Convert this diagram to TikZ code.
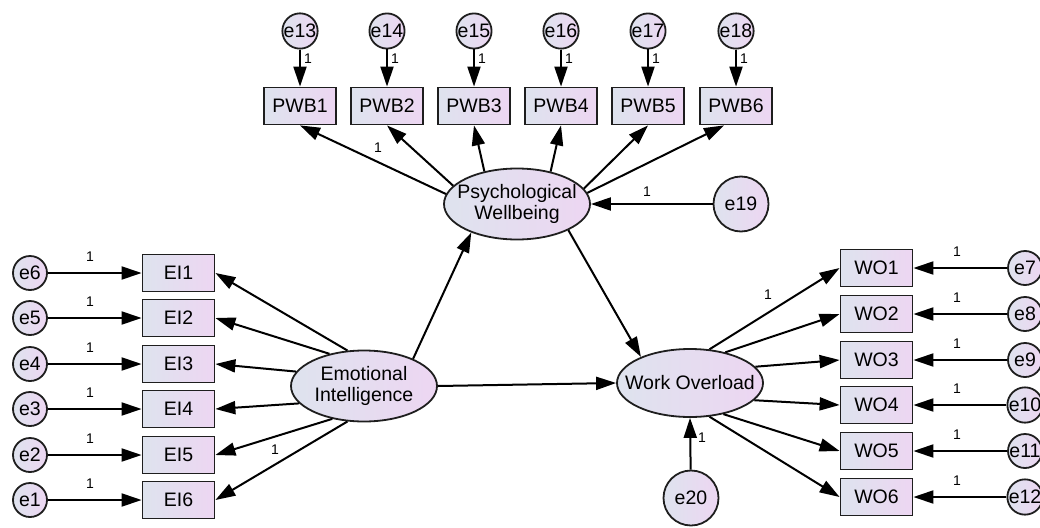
\documentclass[tikz,border=0pt]{standalone}
\usepackage{fontspec}
\setmainfont{Liberation Sans}
\usetikzlibrary{arrows.meta,shapes.geometric}
\definecolor{shadeL}{RGB}{222,227,238}
\definecolor{shadeR}{RGB}{237,214,242}
\definecolor{edgecol}{RGB}{30,30,30}
\begin{document}
\begin{tikzpicture}[x=1pt,y=-1pt,
  fnt/.style={font=\fontsize{19.5}{21}\selectfont},
  obs/.style={draw=edgecol, line width=1.8pt, left color=shadeL, right color=shadeR, minimum width=72pt, minimum height=37pt, inner sep=0pt, fnt},
  lat/.style={ellipse, draw=edgecol, line width=1.8pt, left color=shadeL, right color=shadeR, minimum width=146pt, minimum height=71pt, inner xsep=-14pt, inner ysep=-6pt, fnt, align=center},
  err/.style={circle, draw=edgecol, line width=1.8pt, left color=shadeL, right color=shadeR, minimum size=34pt, inner sep=0pt, fnt},
  bigerr/.style={err, minimum size=55pt},
  arr/.style={line width=2pt, draw=black, -{Triangle[length=20pt,width=13pt]}},
  one/.style={font=\fontsize{14}{15}\selectfont, inner sep=0pt}
]
\useasboundingbox (0,0) rectangle (1040,527);

% latent variables
\node[lat] (PWB) at (517,204) {Psychological\\Wellbeing};
\node[lat] (EI) at (364,386) {Emotional\\Intelligence};
\node[lat, minimum height=68pt] (WO) at (690,383) {Work Overload};
\node[bigerr] (e19) at (741,204) {e19};
\node[bigerr] (e20) at (691,498) {e20};

% PWB indicators
\foreach \i/\x/\e in {1/300/13, 2/387/14, 3/474/15, 4/561/16, 5/648/17, 6/736/18} {
  \node[obs] (PWB\i) at (\x,106) {PWB\i};
  \node[err] (e\e) at (\x,31) {e\e};
  \draw[arr] (e\e) -- (PWB\i.north);
  \node[one] (l\e) at (\x+8,59) {1};
}
\foreach \i/\a in {1/172, 2/164, 3/135, 4/44, 5/13} {
  \draw[arr] (PWB.\a) -- (PWB\i.south);
}
\draw[arr] (PWB.9) -- ([xshift=-12pt]PWB6.south);
\node[one] (lp1) at (378,148) {1};

% EI indicators
\foreach \i/\e/\a/\y in {1/6/115/273, 2/5/137/318, 3/4/168/364, 4/3/195/409, 5/2/226/455, 6/1/245/500} {
  \node[obs] (EI\i) at (178.5,\y) {EI\i};
  \node[err] (e\e) at (30,\y) {e\e};
  \draw[arr] (e\e) -- (EI\i.west);
  \draw[arr] (EI.\a) -- (EI\i.east);
  \node[one] (le\e) at (90,\y-16) {1};
}
\node[one] (lei) at (275,450) {1};

% WO indicators
\foreach \i/\e/\a/\y in {1/7/60/268, 2/8/41/314, 3/9/14/360, 4/10/-15/405, 5/11/-43/451, 6/12/-60/497} {
  \node[obs] (WO\i) at (876.5,\y) {WO\i};
  \node[err] (e\e) at (1025,\y) {e\e};
  \draw[arr] (e\e) -- (WO\i.east);
  \draw[arr] (WO.\a) -- (WO\i.west);
  \node[one] (le\e) at (957,\y-16) {1};
}
\node[one] (lwo) at (768,295) {1};

% structural paths
\draw[arr] (EI.29) -- (PWB.212);
\draw[arr] (EI.0) -- (WO.180);
\draw[arr] (PWB.-27) -- (WO.152);
\draw[arr] (e19) -- (PWB.0);
\node[one] (l19) at (647,192) {1};
\draw[arr] (e20) -- (WO.270);
\node[one] (l20) at (702,438) {1};
\end{tikzpicture}
\end{document}
